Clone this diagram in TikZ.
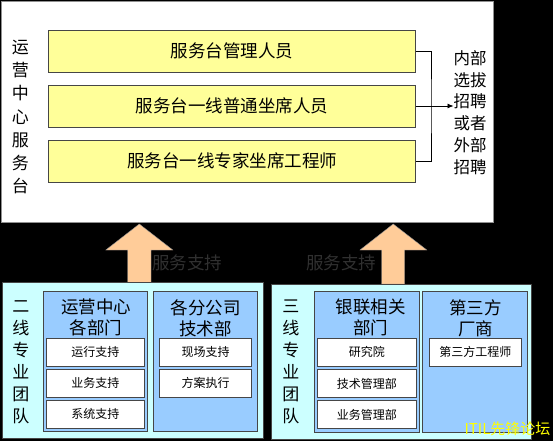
\documentclass[tikz,border=0pt]{standalone}
\usepackage{fontspec}
\setmainfont{Noto Sans CJK SC}
\usetikzlibrary{arrows.meta}
\definecolor{boxyellow}{HTML}{FFFF99}
\definecolor{panelcyan}{HTML}{CCFFFF}
\definecolor{colblue}{HTML}{99CCFF}
\definecolor{peach}{HTML}{FFCC99}
\definecolor{darklabel}{RGB}{48,48,48}
\definecolor{edge}{RGB}{70,70,70}
\begin{document}
\begin{tikzpicture}[x=1pt,y=-1pt,
  every node/.style={inner sep=0pt, outer sep=0pt},
  bigfont/.style={font=\fontsize{17.5}{21}\selectfont},
  smallfont/.style={font=\fontsize{12}{14}\selectfont},
  ybox/.style={draw=edge, line width=0.8pt, fill=boxyellow, minimum width=366.8pt, minimum height=42pt, bigfont},
  panel/.style={draw=edge, line width=0.6pt, fill=panelcyan, minimum height=155.5pt},
  column/.style={draw=edge, line width=0.6pt, fill=colblue, minimum height=140.5pt},
  wbox/.style={draw=edge, line width=0.8pt, fill=white, minimum height=28pt, smallfont},
  vtext/.style={align=center, font=\fontsize{17}{22}\selectfont},
  coltitle/.style={align=center, font=\fontsize{17.5}{21}\selectfont},
  bigarrow/.style={fill=peach, draw=edge!60, line width=0.4pt},
  conn/.style={draw=black, line width=0.8pt}
]
\useasboundingbox (0,0) rectangle (553,441);
\fill[black] (0,0) rectangle (553,441);

% top panel
\node[draw=edge!60, line width=0.6pt, fill=white, minimum width=492.5pt, minimum height=221.7pt] (top) at (247.3,111.9) {};
\node[ybox] (b1) at (232.1,51) {服务台管理人员};
\node[ybox] (b2) at (232.1,106) {服务台一线普通坐席人员};
\node[ybox] (b3) at (232.1,161) {服务台一线专家坐席工程师};
\node[vtext, font=\fontsize{17}{23.3}\selectfont] (lt) at (20.5,117) {运\\营\\中\\心\\服\\务\\台};
\node[align=center, font=\fontsize{16.5}{21.8}\selectfont] (rt) at (470,112.5) {内部\\选拔\\招聘\\或者\\外部\\招聘};
\coordinate (brk) at (431,106);
\draw[conn] (b1.east) -| (brk) |- (b3.east);
\draw[conn, -{Latex[length=6pt,width=5pt]}] (b2.east) -- (rt.west |- b2.east);

% big arrows
\draw[bigarrow] (139.3,224) -- (172.8,250) -- (151,250) -- (151,283) -- (127.7,283) -- (127.7,250) -- (105.8,250) -- cycle;
\draw[bigarrow] (393.2,224) -- (426.8,250) -- (404.5,250) -- (404.5,284) -- (381.5,284) -- (381.5,250) -- (360,250) -- cycle;
\node[bigfont, text=darklabel] (s1) at (187,262.5) {服务支持};
\node[bigfont, text=darklabel] (s2) at (341,262.5) {服务支持};

% bottom left panel
\node[panel, minimum width=261pt] (lp) at (132.3,360.5) {};
\node[vtext] (lv) at (21,362) {二\\线\\专\\业\\团\\队};
\node[column, minimum width=104.4pt] (c1) at (95.2,361.4) {};
\node[column, minimum width=104.1pt] (c2) at (205.5,361.4) {};
\node[coltitle] (t1) at (96,317.8) {运营中心\\各部门};
\node[coltitle] (t2) at (205.5,317.8) {各分公司\\技术部};
\node[wbox, minimum width=98.7pt] (w11) at (95.4,352.2) {运行支持};
\node[wbox, minimum width=98.7pt] (w12) at (95.4,383.3) {业务支持};
\node[wbox, minimum width=98.7pt] (w13) at (95.4,414.2) {系统支持};
\node[wbox, minimum width=92.5pt] (w21) at (205.6,352.2) {现场支持};
\node[wbox, minimum width=92.5pt] (w22) at (205.6,383.3) {方案执行};

% bottom right panel
\node[panel, minimum width=259.3pt] (rp) at (401.3,361.7) {};
\node[vtext] (rv) at (290.8,362) {三\\线\\专\\业\\团\\队};
\node[column, minimum width=105pt] (c3) at (366.6,361.7) {};
\node[column, minimum width=104.9pt] (c4) at (475,361.7) {};
\node[coltitle] (t3) at (370.5,317.8) {银联相关\\部门};
\node[coltitle] (t4) at (475.6,317.8) {第三方\\厂商};
\node[wbox, minimum width=98.7pt] (w31) at (366.8,352.4) {研究院};
\node[wbox, minimum width=98.7pt] (w32) at (366.8,383.8) {技术管理部};
\node[wbox, minimum width=98.7pt] (w33) at (366.8,414.5) {业务管理部};
\node[wbox, minimum width=92.2pt] (w41) at (475.4,352.4) {第三方工程师};

% watermark
\node[text={rgb,255:red,255;green,255;blue,0}, font=\fontsize{15}{17}\selectfont] (wm) at (507.5,429) {ITIL先锋论坛};
\end{tikzpicture}
\end{document}
